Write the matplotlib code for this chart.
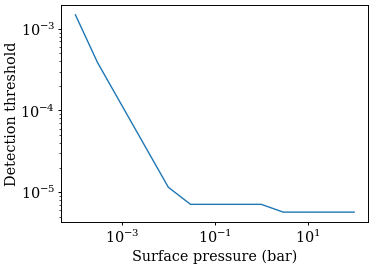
import matplotlib
matplotlib.use("Agg")
import matplotlib.pyplot as plt
from matplotlib.ticker import FixedLocator, NullLocator

pressure = [1e-4, 3e-4, 1e-2, 3e-2, 1.0, 3.0, 100.0]
threshold = [1.48e-3, 3.85e-4, 1.15e-5, 7.1e-6, 7.1e-6, 5.7e-6, 5.7e-6]
xticks = [1e-3, 1e-1, 1e1]

plt.rcParams['font.family'] = ['DejaVu Serif']
plt.rcParams['font.size'] = 10.4

fig = plt.figure(figsize=(3.74, 2.65), dpi=100)
ax = fig.add_axes([0.1644, 0.1623, 0.8196, 0.8188])
ax.plot(pressure, threshold, color='#1f77b4', lw=1.0)
ax.set_xscale('log')
ax.set_yscale('log')
ax.xaxis.set_major_locator(FixedLocator(xticks))
ax.xaxis.set_minor_locator(NullLocator())
ax.tick_params(which='major', length=2.0, width=0.7, pad=2.5)
ax.tick_params(which='minor', length=1.1, width=0.5)
for s in ax.spines.values():
    s.set_linewidth(0.7)
ax.set_xlabel('Surface pressure (bar)', labelpad=3)
ax.set_ylabel('Detection threshold', labelpad=1)
fig.savefig('out.png', dpi=100)
